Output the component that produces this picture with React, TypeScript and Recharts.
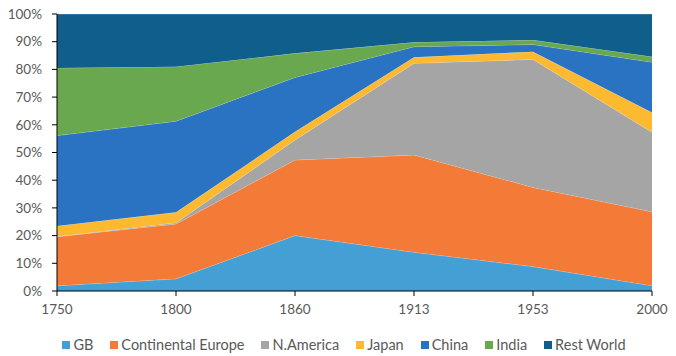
import { AreaChart, Area, XAxis, YAxis } from "recharts";

const years = ["1750", "1800", "1860", "1913", "1953", "2000"];

const gb = [1.9, 4.4, 20, 14, 8.8, 1.9];
const continentalEurope = [17.7, 19.8, 27.3, 35.1, 28.6, 26.7];
const nAmerica = [0.1, 0.4, 7.2, 33.1, 46.2, 28.7];
const japan = [3.8, 3.8, 3, 2.2, 2.8, 7.1];
const china = [32.6, 32.9, 19.6, 3.8, 2.6, 18.2];
const india = [24.4, 19.7, 8.7, 1.6, 1.6, 2];
const restWorld = [19.5, 19, 14.2, 10.2, 9.4, 15.4];

const yTicks = [0, 0.1, 0.2, 0.3, 0.4, 0.5, 0.6, 0.7, 0.8, 0.9, 1];

const series = [
  { key: "gb", name: "GB", values: gb, color: "#449fd5" },
  { key: "ce", name: "Continental Europe", values: continentalEurope, color: "#f47a38" },
  { key: "na", name: "N.America", values: nAmerica, color: "#a5a5a5" },
  { key: "jp", name: "Japan", values: japan, color: "#fdb930" },
  { key: "cn", name: "China", values: china, color: "#2a73c3" },
  { key: "in", name: "India", values: india, color: "#69a84f" },
  { key: "rw", name: "Rest World", values: restWorld, color: "#0f5e8c" },
];

const data = years.map((year, i) => {
  const row: Record<string, string | number> = { year };
  series.forEach((s) => {
    row[s.key] = s.values[i];
  });
  return row;
});

const font = "Lato, 'Open Sans', sans-serif";
const tickStyle = { fill: "#595959", fontSize: 13.5, fontFamily: font };

const App = () => {
  return (
    <div style={{ position: "absolute", left: 0, top: 0, width: 676, height: 356, background: "#fff" }}>
      <AreaChart
        width={676}
        height={325}
        data={data}
        stackOffset="expand"
        margin={{ top: 14, right: 24, bottom: 4, left: 0 }}
      >
        <XAxis
          dataKey="year"
          tick={tickStyle}
          tickSize={5}
          tickMargin={8}
          axisLine={{ stroke: "#000" }}
          tickLine={{ stroke: "#000" }}
          height={30}
        />
        <YAxis
          width={57}
          domain={[0, 1]}
          ticks={yTicks}
          tickFormatter={(v: number) => `${Math.round(v * 100)}%`}
          tick={tickStyle}
          tickSize={5}
          tickMargin={10}
          axisLine={{ stroke: "#000" }}
          tickLine={{ stroke: "#000" }}
        />
        {series.map((s) => (
          <Area
            key={s.key}
            type="linear"
            dataKey={s.key}
            name={s.name}
            stackId="1"
            fill={s.color}
            fillOpacity={1}
            stroke="#ffffff"
            strokeOpacity={0.45}
            strokeWidth={0.7}
            isAnimationActive={false}
          />
        ))}
      </AreaChart>
      <div
        style={{
          position: "absolute",
          top: 335,
          left: 6,
          width: 676,
          display: "flex",
          justifyContent: "center",
          gap: 17,
          fontFamily: font,
          fontSize: 14.5,
          color: "#595959",
          lineHeight: "20px",
        }}
      >
        {series.map((s) => (
          <span key={s.key} style={{ display: "flex", alignItems: "center", gap: 3 }}>
            <span style={{ width: 8, height: 8, background: s.color, display: "inline-block" }} />
            {s.name}
          </span>
        ))}
      </div>
    </div>
  );
};

export default App;
